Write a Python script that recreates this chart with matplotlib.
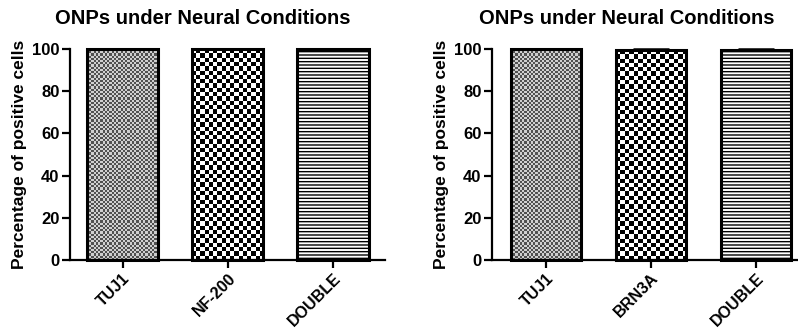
import numpy as np
import matplotlib
matplotlib.use("Agg")
import matplotlib.pyplot as plt
from matplotlib.colors import ListedColormap

plt.rcParams['font.family'] = ['Liberation Sans', 'DejaVu Sans']
plt.rcParams['hatch.color'] = '#858585'
plt.rcParams['hatch.linewidth'] = 1.0

title = "ONPs under Neural Conditions"
ylabel = "Percentage of positive cells"

left_cats = ["TUJ1", "NF-200", "DOUBLE"]
left_vals = [100, 100, 100]
left_err = [0, 0, 0]

right_cats = ["TUJ1", "BRN3A", "DOUBLE"]
right_vals = [100, 99.4, 99.5]
right_err = [0, 0.6, 0.5]

yticks = [0, 20, 40, 60, 80, 100]

fig = plt.figure(figsize=(7.98, 3.31), dpi=100)

# texture styles: (kind, cell px, dark colour, light colour)
styles = [("checker", 2.2, '#505050', '#cfcfcf'),
          ("checker", 4.3, '#000000', '#ffffff'),
          ("hlines", None, None, None)]


def texture(ax, bar, kind, cell, dark, light):
    x0, y0 = bar.get_x(), bar.get_y()
    w, h = bar.get_width(), bar.get_height()
    p0 = ax.transData.transform((x0, y0))
    p1 = ax.transData.transform((x0 + w, y0 + h))
    nx = max(1, int(round(abs(p1[0] - p0[0]) / cell)))
    ny = max(1, int(round(abs(p1[1] - p0[1]) / cell)))
    arr = (np.add.outer(np.arange(ny), np.arange(nx)) % 2).astype(float)
    cmap = ListedColormap([light, dark])
    im = ax.imshow(arr, extent=(x0, x0 + w, y0, y0 + h), cmap=cmap,
                   interpolation='nearest', aspect='auto', zorder=2.5,
                   origin='lower')
    im.set_clip_path(bar)


def panel(rect, cats, vals, errs, xlim, title_x, ylab_x):
    ax = fig.add_axes(rect)
    x = np.arange(len(cats))
    ax.set_xlim(*xlim)
    ax.set_ylim(0, 100)
    bars = ax.bar(x, vals, width=0.675, color='white', edgecolor='black',
                  linewidth=0, zorder=2)
    for b, st in zip(bars, styles):
        b.set_clip_on(False)
        if st[0] == "hlines":
            b.set_hatch('-----')
    for b, st in zip(bars, styles):
        if st[0] == "checker":
            texture(ax, b, *st)
    ax.set_xlim(*xlim)
    ax.set_ylim(0, 100)
    outl = ax.bar(x, vals, width=0.675, fill=False, edgecolor='black',
                  linewidth=2.2, zorder=3)
    for b in outl:
        b.set_clip_on(False)
    for xi, v, e in zip(x, vals, errs):
        if e > 0:
            ax.errorbar(xi, v, yerr=[[0], [e]], color='black', capsize=13,
                        elinewidth=1.5, capthick=1.8, zorder=4, clip_on=False)
    ax.set_xlim(*xlim)
    ax.set_ylim(0, 100)
    ax.set_xticks(x)
    ax.set_xticklabels(cats, rotation=45, ha='right', rotation_mode='anchor',
                       fontsize=11.5, fontweight='bold')
    ax.set_yticks(yticks)
    ax.set_yticklabels([str(t) for t in yticks], fontsize=12,
                       fontweight='bold')
    ax.set_ylabel(ylabel, fontsize=12.5, fontweight='bold')
    ax.yaxis.set_label_coords(ylab_x, 0.5)
    for s in ['top', 'right']:
        ax.spines[s].set_visible(False)
    for s in ['left', 'bottom']:
        ax.spines[s].set_linewidth(1.6)
    ax.tick_params(axis='both', width=1.6, length=6, pad=1.5)
    fig.text(title_x, 0.945, title, ha='center', va='center', fontsize=14.5,
             fontweight='bold')
    return ax


panel([70 / 798, 71 / 331, 315 / 798, 211 / 331], left_cats, left_vals,
      left_err, (-0.499, 2.494), 203 / 798, -0.137)
panel([492 / 798, 71 / 331, 306 / 798, 211 / 331], right_cats, right_vals,
      right_err, (-0.514, 2.40), 627 / 798, -0.14)

fig.savefig("out.png", dpi=100)
